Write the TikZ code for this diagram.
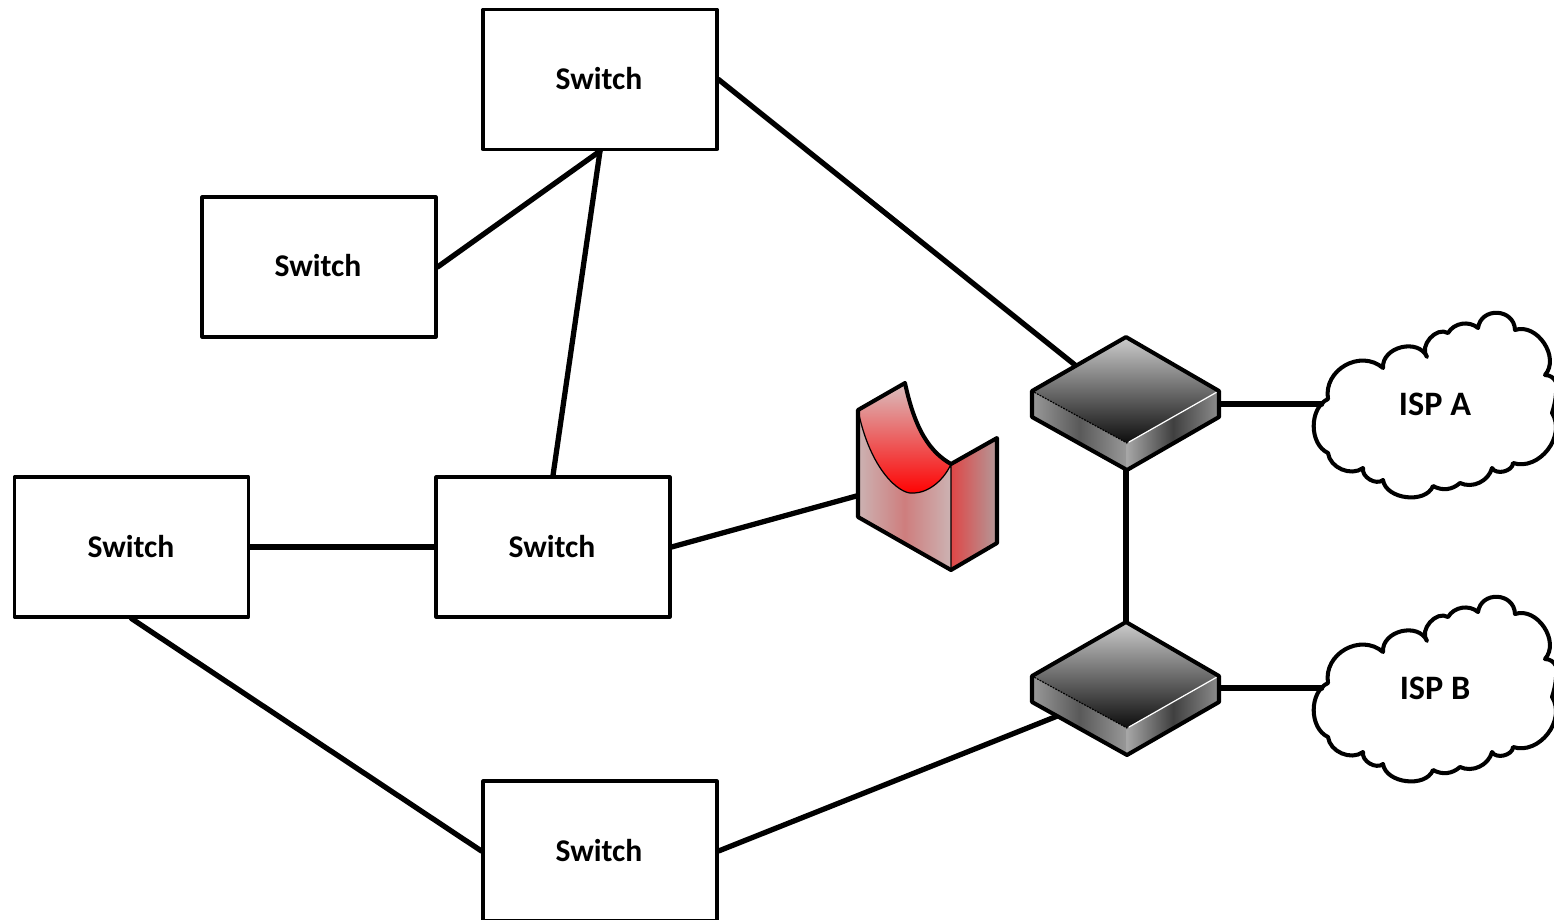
\documentclass[tikz,border=0pt]{standalone}
\usepackage{fontspec}
\setmainfont{Carlito}
\usetikzlibrary{positioning}
\tikzset{
switchbox/.style={draw=black,fill=white,line width=1.8pt,minimum width=4.68cm,minimum height=2.8cm,inner sep=0pt},
switchtext/.style={font=\fontsize{18}{20}\selectfont\bfseries,inner sep=0pt},
cloudtext/.style={minimum width=4.52cm,minimum height=1cm,font=\fontsize{19.5}{22}\selectfont\bfseries,inner sep=0pt},
link/.style={line width=3pt},
outline/.style={draw=black,line width=2.3pt},
thinedge/.style={line width=0.7pt}
}
\begin{document}
\begin{tikzpicture}[line cap=round,line join=round,x=0.02cm,y=-0.02cm]
\clip (0,0) rectangle (1554,919);
\fill[white] (0,0) rectangle (1554,919);
\node[switchbox] (switchtop) at (600,79.5) {};
\node[switchbox] (switchupper) at (319,267) {};
\node[switchbox] (switchmid) at (553,547) {};
\node[switchbox] (switchleft) at (131.5,547) {};
\node[switchbox] (switchbottom) at (600,851) {};
\node[switchtext] (labeltop) at (599,79) {Switch};
\node[switchtext] (labelupper) at (318,266) {Switch};
\node[switchtext] (labelmid) at (552,547) {Switch};
\node[switchtext] (labelleft) at (131,547) {Switch};
\node[switchtext] (labelbottom) at (599,851) {Switch};
\node[cloudtext] (ispa) at (1435,404) {ISP A};
\node[cloudtext] (ispb) at (1435,688) {ISP B};
\coordinate (routeratop) at (1090,377);
\coordinate (routerasouth) at (1126,465);
\coordinate (routeraeast) at (1215,404);
\coordinate (routerbnorth) at (1126,626);
\coordinate (routerbwest) at (1070,711);
\coordinate (routerbeast) at (1215,688);
\coordinate (firewallwest) at (860,495);
% links go under the devices
\draw[link] (switchtop.east) -- (routeratop);
\draw[link] (switchtop.south) -- (switchupper.east);
\draw[link] (switchtop.south) -- (switchmid.north);
\draw[link] (switchleft.east) -- (switchmid.west);
\draw[link] (switchmid.east) -- (firewallwest);
\draw[link] (switchleft.south) -- (switchbottom.west);
\draw[link] (switchbottom.east) -- (routerbwest);
\draw[link] (routerasouth) -- (routerbnorth);
\draw[link] (routeraeast) -- (ispa.west);
\draw[link] (routerbeast) -- (ispb.west);
% firewall
\shade[left color=red!20!gray!50,right color=red!20!gray!50,middle color=red!45!gray!70] (858,410) .. controls (870,470) and (900,495) .. (913,493) .. controls (930,493) and (945,478) .. (951,464) -- (951,570) -- (858,517) -- cycle;
\shade[left color=red!70!gray!85,right color=red!15!gray!70] (951,464) -- (997,438) -- (997,543) -- (951,570) -- cycle;
\shade[top color=red!25!gray!40,bottom color=red] (858,410) -- (905,383) .. controls (915,430) and (930,452) .. (951,464) .. controls (945,478) and (930,493) .. (913,493) .. controls (900,495) and (870,470) .. (858,410) -- cycle;
\draw[thinedge] (858,410) .. controls (870,470) and (900,495) .. (913,493) .. controls (930,493) and (945,478) .. (951,464) -- (951,570);
\draw[outline] (858,410) -- (905,383) .. controls (915,430) and (930,452) .. (951,464) -- (997,438) -- (997,543) -- (951,570) -- (858,517) -- cycle;
% routers and clouds
\foreach \dy in {0,285}{
\begin{scope}[shift={(0,\dy)}]
\shade[left color=gray!80,right color=gray!80,middle color=black!65] (1032,391) -- (1127,443) -- (1127,470) -- (1032,417) -- cycle;
\shade[left color=gray!70,right color=gray!90,middle color=black!75] (1127,443) -- (1219,391) -- (1219,417) -- (1127,470) -- cycle;
\shade[top color=gray!40,bottom color=black!95] (1126,337) -- (1219,391) -- (1127,443) -- (1032,391) -- cycle;
\draw[black,thinedge,densely dotted] (1032,391) -- (1127,443);
\draw[white,line width=0.7pt] (1129,442) -- (1217,392);
\draw[gray!70,line width=0.6pt] (1127,445) -- (1127,468);
\draw[outline] (1126,337) -- (1219,391) -- (1219,417) -- (1127,470) -- (1032,417) -- (1032,391) -- cycle;
\end{scope}
}
\foreach \dy in {0,284}{
\begin{scope}[shift={(0,\dy)}]
\draw[outline] (1328,399) to[bend left=70,looseness=1.2] (1383,368) to[bend left=80,looseness=1.2] (1427,357) to[bend left=80,looseness=1.1] (1448,333) to[bend left=50] (1478,328) to[bend left=85,looseness=1.5] (1515,330) to[bend left=75,looseness=1.1] (1545,375) to[bend left=30] (1556,382) to[bend left=10] (1552,413) to[bend left=70,looseness=1.1] (1513,463) to[bend left=75] (1492,468) to[bend left=50] (1460,483) to[bend left=35] (1433,486) to[bend left=75] (1383,480) to[bend left=70] (1363,468) to[bend left=60] (1328,453) to[bend left=65] cycle;
\end{scope}
}
\end{tikzpicture}
\end{document}
